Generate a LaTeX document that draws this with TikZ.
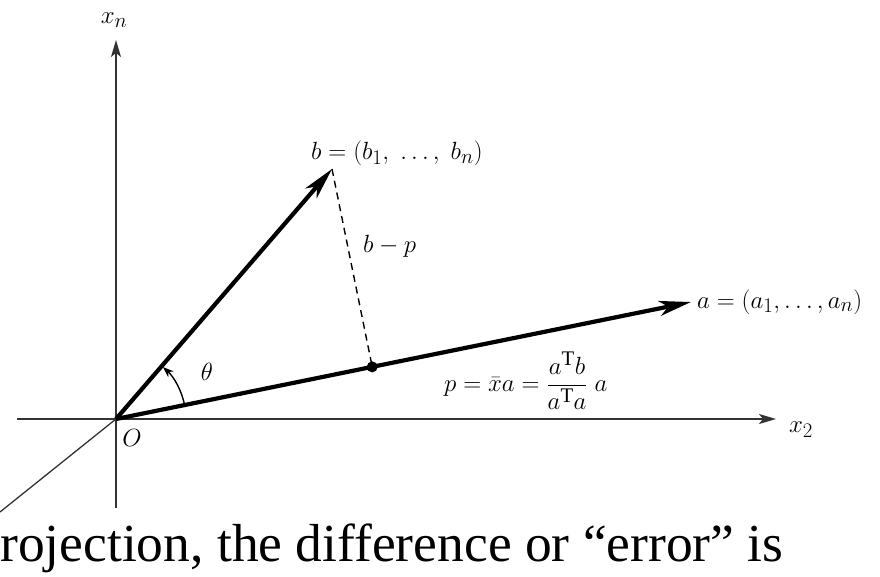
\documentclass[tikz,border=0pt]{standalone}
\usepackage{amsmath}
\usepackage{fontspec}
\setmainfont{Liberation Serif}
\usetikzlibrary{arrows.meta, calc}

\begin{document}
\begin{tikzpicture}[
    x=1pt, y=-1pt,
    every node/.style={inner sep=1pt},
    axis/.style   ={draw=black!80, line width=1.5pt, -{Stealth[length=17pt, width=10pt, inset=4pt]}},
    plainaxis/.style={draw=black!80, line width=1.3pt},
    vector/.style ={draw=black, line width=4.2pt, -{Stealth[length=32pt, width=15pt, inset=9pt]}},
    proj/.style   ={draw=black, line width=1.4pt, dash pattern=on 7pt off 5pt},
    anglearc/.style={draw=black, line width=1.4pt, -{Stealth[length=11pt, width=8pt]}},
    mlabel/.style ={font=\fontsize{24.88}{28}\selectfont},
    caption/.style={font=\fontsize{53.5}{60}\selectfont, inner sep=0pt}
]
\useasboundingbox (0,0) rectangle (880,577);

% ========== COORDINATES ==========
\coordinate (O)      at (116,419);
\coordinate (xntop)  at (116,40);
\coordinate (xnbot)  at (116,508);
\coordinate (x2left) at (17,419);
\coordinate (x2tip)  at (776,419);
\coordinate (x1end)  at (0,512);
\coordinate (b)      at (332,169);
\coordinate (a)      at (691,302);
\coordinate (p)      at ($(O)!(b)!(a)$);

% ========== AXES ==========
\draw[plainaxis] (O) -- (xnbot);
\draw[axis] (xnbot) -- (xntop);
\draw[axis] (x2left) -- (x2tip);
\draw[plainaxis] (O) -- (x1end);

% ========== VECTORS ==========
\draw[vector] (O) -- (b);
\draw[vector] (O) -- (a);
\draw[proj] (b) -- (p);
\fill (p) circle (5.5pt);

% angle theta between a and b
\draw[anglearc] ($(O)+(-11.5:70)$) arc[start angle=-11.5, end angle=-48, radius=70];

% ========== LABELS ==========
\node[mlabel] (xnlab) at (114,20) {$x_n$};
\node[mlabel] (x2lab) at (801,430) {$x_2$};
\node[mlabel] (olab)  at (132,438) {$O$};
\node[mlabel] (thlab) at (207,372) {$\theta$};
\node[mlabel, anchor=base west] (blab)  at (310,160) {$b=(b_1,\;\ldots,\;b_n)$};
\node[mlabel, anchor=base west] (alab)  at (696,308) {$a=(a_1,\ldots,a_n)$};
\node[mlabel, anchor=base west] (bplab) at (362,252) {$b-p$};
\node[mlabel, anchor=west] (plab) at (443,381) {$p=\bar{x}a=\dfrac{a^{\mathrm{T}}b}{a^{\mathrm{T}}a}\;a$};

% ========== CAPTION LINE ==========
\node[caption, anchor=base west] (cap) at (0,561) {rojection, the difference or “error” is};

\end{tikzpicture}
\end{document}
